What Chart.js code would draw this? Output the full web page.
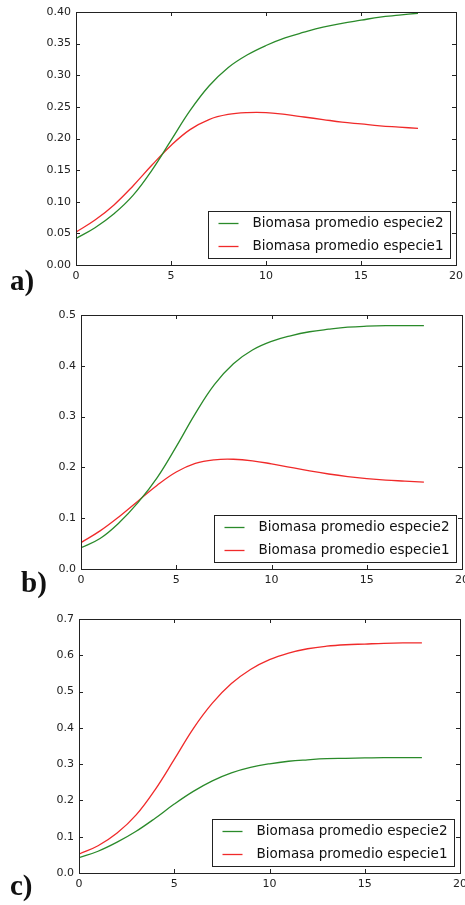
<!DOCTYPE html>
<html>
<head>
<meta charset="utf-8">
<script src="https://cdn.jsdelivr.net/npm/chart.js@4.4.1/dist/chart.umd.min.js"></script>
<style>
    body { margin: 0; width: 465px; height: 905px; overflow: hidden; background: #fff; position: relative; }
    canvas { position: absolute; left: 0; }
    .lbl { position: absolute; font: bold 29px "Liberation Serif", "DejaVu Serif", serif; color: #111; line-height: 1; }
</style>
</head>
<body>
<canvas id="chartA" width="480" height="290" style="top:0px"></canvas>
<canvas id="chartB" width="480" height="294" style="top:300px"></canvas>
<canvas id="chartC" width="480" height="298" style="top:600px"></canvas>
<div class="lbl" style="left:10px;top:266px">a)</div>
<div class="lbl" style="left:21px;top:568px">b)</div>
<div class="lbl" style="left:10px;top:871px">c)</div>
<script>
// tiempo (x) and the tick labels
var tiempo = [0, 1, 2, 3, 4, 5, 6, 7, 8, 9, 10, 11, 12, 13, 14, 15, 16, 17, 18];
var xTicks = [0, 5, 10, 15, 20];
var yTicksA = [0, 0.05, 0.10, 0.15, 0.20, 0.25, 0.30, 0.35, 0.40];
var yTicksB = [0, 0.1, 0.2, 0.3, 0.4, 0.5];
var yTicksC = [0, 0.1, 0.2, 0.3, 0.4, 0.5, 0.6, 0.7];

// a)
var especie2A = [0.042, 0.059, 0.081, 0.110, 0.150, 0.197, 0.244, 0.283, 0.312, 0.332, 0.347, 0.359, 0.368, 0.376, 0.382, 0.387, 0.392, 0.395, 0.398];
var especie1A = [0.052, 0.071, 0.095, 0.125, 0.158, 0.189, 0.214, 0.230, 0.238, 0.241, 0.241, 0.238, 0.234, 0.230, 0.226, 0.223, 0.220, 0.218, 0.216];
// b)
var especie2B = [0.042, 0.060, 0.091, 0.131, 0.180, 0.241, 0.306, 0.363, 0.404, 0.431, 0.448, 0.459, 0.467, 0.472, 0.476, 0.478, 0.479, 0.479, 0.479];
var especie1B = [0.052, 0.075, 0.103, 0.134, 0.165, 0.191, 0.208, 0.215, 0.216, 0.213, 0.207, 0.200, 0.193, 0.187, 0.182, 0.178, 0.175, 0.173, 0.171];
// c)
var especie2C = [0.042, 0.060, 0.085, 0.115, 0.151, 0.190, 0.225, 0.254, 0.276, 0.291, 0.301, 0.308, 0.312, 0.315, 0.316, 0.317, 0.318, 0.318, 0.318];
var especie1C = [0.052, 0.075, 0.110, 0.160, 0.230, 0.313, 0.398, 0.468, 0.522, 0.561, 0.588, 0.606, 0.618, 0.625, 0.629, 0.631, 0.633, 0.634, 0.634];

var verde = '#2a8a2a';
var rojo = '#f02a2a';

function puntos(vals) {
    return tiempo.map(function(t, i) { return { x: t, y: vals[i] }; });
}

// box around the plot, ticks pointing inwards on all four sides, legend bottom right
var marcoPlugin = {
    id: 'marco',
    afterDatasetsDraw: function(chart) {
        var ctx = chart.ctx, a = chart.chartArea;
        var xs = chart.scales.x, ys = chart.scales.y;
        ctx.save();
        ctx.strokeStyle = '#222';
        ctx.lineWidth = 1;
        ctx.beginPath();
        xs.ticks.forEach(function(t) {
            var px = Math.round(xs.getPixelForValue(t.value)) + 0.5;
            ctx.moveTo(px, a.bottom); ctx.lineTo(px, a.bottom - 4);
            ctx.moveTo(px, a.top); ctx.lineTo(px, a.top + 4);
        });
        ys.ticks.forEach(function(t) {
            var py = Math.round(ys.getPixelForValue(t.value)) + 0.5;
            ctx.moveTo(a.left, py); ctx.lineTo(a.left + 4, py);
            ctx.moveTo(a.right, py); ctx.lineTo(a.right - 4, py);
        });
        ctx.stroke();
        ctx.strokeRect(Math.round(a.left) + 0.5, Math.round(a.top) + 0.5,
            Math.round(a.right - a.left), Math.round(a.bottom - a.top));

        // legend
        var w = 242, h = 47;
        var bx = Math.round(a.right - 6 - w) + 0.5, by = Math.round(a.bottom - 7 - h) + 0.5;
        ctx.fillStyle = '#fff';
        ctx.fillRect(bx, by, w, h);
        ctx.strokeStyle = '#222';
        ctx.strokeRect(bx, by, w, h);
        ctx.font = '13.5px "DejaVu Sans"';
        ctx.textBaseline = 'middle';
        chart.data.datasets.forEach(function(ds, i) {
            var ry = by + 12 + i * 23;
            ctx.strokeStyle = ds.borderColor;
            ctx.lineWidth = 1.3;
            ctx.beginPath();
            ctx.moveTo(bx + 10, ry); ctx.lineTo(bx + 30, ry);
            ctx.stroke();
            ctx.fillStyle = '#111';
            ctx.fillText(ds.label, bx + 44, ry);
        });
        ctx.restore();
    }
};

function crearGrafico(id, serie2, serie1, yTicks, yMax, dec, anchoY, pad) {
    var ctx = document.getElementById(id).getContext('2d');
    return new Chart(ctx, {
        type: 'line',
        data: {
            datasets: [{
                label: 'Biomasa promedio especie2',
                data: puntos(serie2),
                borderColor: verde,
                borderWidth: 1.3,
                pointRadius: 0,
                fill: false,
                tension: 0.4
            }, {
                label: 'Biomasa promedio especie1',
                data: puntos(serie1),
                borderColor: rojo,
                borderWidth: 1.3,
                pointRadius: 0,
                fill: false,
                tension: 0.4
            }]
        },
        options: {
            responsive: false,
            animation: false,
            devicePixelRatio: 1,
            layout: { padding: pad },
            plugins: { legend: { display: false }, tooltip: { enabled: false } },
            scales: {
                x: {
                    type: 'linear',
                    min: 0,
                    max: 20,
                    afterBuildTicks: function(axis) { axis.ticks = xTicks.map(function(v) { return { value: v }; }); },
                    afterFit: function(axis) { axis.height = 25; },
                    grid: { display: false, drawTicks: false },
                    border: { display: false },
                    ticks: { padding: 5, color: '#222', font: { family: 'DejaVu Sans', size: 11 }, maxRotation: 0 }
                },
                y: {
                    min: 0,
                    max: yMax,
                    afterBuildTicks: function(axis) { axis.ticks = yTicks.map(function(v) { return { value: v }; }); },
                    afterFit: function(axis) { axis.width = anchoY; },
                    grid: { display: false, drawTicks: false },
                    border: { display: false },
                    ticks: {
                        padding: 5,
                        color: '#222',
                        font: { family: 'DejaVu Sans', size: 11 },
                        callback: function(v) { return Number(v).toFixed(dec); }
                    }
                }
            }
        },
        plugins: [marcoPlugin]
    });
}

crearGrafico('chartA', especie2A, especie1A, yTicksA, 0.40, 2, 76, { top: 12, right: 24, left: 0, bottom: 0 });
crearGrafico('chartB', especie2B, especie1B, yTicksB, 0.5, 1, 81, { top: 15, right: 18, left: 0, bottom: 0 });
crearGrafico('chartC', especie2C, especie1C, yTicksC, 0.7, 1, 79, { top: 19, right: 20, left: 0, bottom: 0 });
</script>
</body>
</html>
